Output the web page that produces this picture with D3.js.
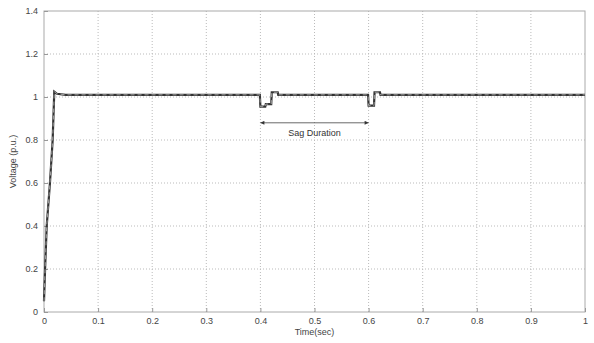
<!DOCTYPE html>
<html lang="en">
<head>
    <meta charset="UTF-8">
    <title>Voltage vs Time</title>
    <script src="https://d3js.org/d3.v7.min.js"></script>
    <style>
        body { margin: 0; background: #fff; }
        text { font-family: "Liberation Sans", Arial, sans-serif; }
    </style>
</head>
<body>
    <script>
        // time (sec) and voltage (p.u.)
        var time    = [0, 0.002, 0.005, 0.011, 0.016, 0.019, 0.024, 0.04, 0.1, 0.2, 0.3, 0.399,
                       0.4, 0.409, 0.41, 0.42, 0.421, 0.432, 0.433, 0.5, 0.599,
                       0.6, 0.61, 0.611, 0.621, 0.622, 0.7, 0.8, 0.9, 1.0];
        var voltage = [0.05, 0.2, 0.4, 0.6, 0.8, 1.025, 1.015, 1.01, 1.01, 1.01, 1.01, 1.01,
                       0.955, 0.955, 0.967, 0.967, 1.022, 1.022, 1.01, 1.01, 1.01,
                       0.96, 0.96, 1.022, 1.022, 1.01, 1.01, 1.01, 1.01, 1.01];
        var xTicks = [0, 0.1, 0.2, 0.3, 0.4, 0.5, 0.6, 0.7, 0.8, 0.9, 1];
        var yTicks = [0, 0.2, 0.4, 0.6, 0.8, 1, 1.2, 1.4];
        var sagStart = 0.4, sagEnd = 0.6, sagLevel = 0.88;

        var width = 594, height = 343;
        var m = { left: 44, right: 9, top: 11, bottom: 31 };

        var svg = d3.select("body").append("svg")
                    .attr("width", width)
                    .attr("height", height);

        var x = d3.scaleLinear().domain([0, 1]).range([m.left, width - m.right]);
        var y = d3.scaleLinear().domain([0, 1.4]).range([height - m.bottom, m.top]);

        // dotted grid
        svg.append("g").selectAll("line").data(xTicks.slice(1, -1)).enter().append("line")
            .attr("x1", function(d){ return x(d); }).attr("x2", function(d){ return x(d); })
            .attr("y1", y(0)).attr("y2", y(1.4))
            .attr("stroke", "#bbb").attr("stroke-dasharray", "1,2");
        svg.append("g").selectAll("line").data(yTicks.slice(1, -1)).enter().append("line")
            .attr("y1", function(d){ return y(d); }).attr("y2", function(d){ return y(d); })
            .attr("x1", x(0)).attr("x2", x(1))
            .attr("stroke", "#bbb").attr("stroke-dasharray", "1,2");

        // frame
        svg.append("rect")
            .attr("x", x(0)).attr("y", y(1.4))
            .attr("width", x(1) - x(0)).attr("height", y(0) - y(1.4))
            .attr("fill", "none").attr("stroke", "#aaa");

        // axes with inward ticks
        var xAxis = svg.append("g").attr("transform", "translate(0," + y(0) + ")")
            .call(d3.axisBottom(x).tickValues(xTicks).tickSize(-4).tickPadding(6)
                  .tickFormat(function(d){ return d === 0 || d === 1 ? d : d3.format(".1f")(d); }));
        var yAxis = svg.append("g").attr("transform", "translate(" + x(0) + ",0)")
            .call(d3.axisLeft(y).tickValues(yTicks).tickSize(-4).tickPadding(6)
                  .tickFormat(function(d){ return d === 0 || d === 1 ? d : d3.format(".1f")(d); }));
        [xAxis, yAxis].forEach(function(a){
            a.select(".domain").remove();
            a.selectAll(".tick line").attr("stroke", "#999");
            a.selectAll("text").attr("fill", "#444").style("font-size", "9px");
        });

        // axis titles
        svg.append("text").attr("x", x(0.5)).attr("y", height - 8)
            .attr("text-anchor", "middle").attr("fill", "#444").style("font-size", "9px")
            .text("Time(sec)");
        svg.append("text")
            .attr("transform", "translate(16," + y(0.7) + ") rotate(-90)")
            .attr("text-anchor", "middle").attr("fill", "#444").style("font-size", "9px")
            .text("Voltage (p.u.)");

        // voltage trace
        var line = d3.line().x(function(d, i){ return x(time[i]); }).y(function(d){ return y(d); });
        svg.append("path").datum(voltage)
            .attr("d", line).attr("fill", "none")
            .attr("stroke", "#333").attr("stroke-width", 2.2);
        svg.append("path").datum(voltage)
            .attr("d", line).attr("fill", "none")
            .attr("stroke", "#bbb").attr("stroke-width", 0.8)
            .attr("stroke-dasharray", "4,3");

        // sag duration arrow
        svg.append("defs").selectAll("marker").data(["s", "e"]).enter().append("marker")
            .attr("id", function(d){ return "arr" + d; })
            .attr("viewBox", "0 0 10 10").attr("refX", function(d){ return d === "e" ? 10 : 0; })
            .attr("refY", 5).attr("markerWidth", 7).attr("markerHeight", 5)
            .attr("orient", "auto")
            .append("path")
            .attr("d", function(d){ return d === "e" ? "M0,0L10,5L0,10Z" : "M10,0L0,5L10,10Z"; })
            .attr("fill", "#333");
        svg.append("line")
            .attr("x1", x(sagStart)).attr("x2", x(sagEnd))
            .attr("y1", y(sagLevel)).attr("y2", y(sagLevel))
            .attr("stroke", "#444").attr("stroke-width", 0.8)
            .attr("marker-start", "url(#arrs)").attr("marker-end", "url(#arre)");
        svg.append("text").attr("x", x((sagStart + sagEnd) / 2)).attr("y", y(sagLevel) + 13)
            .attr("text-anchor", "middle").attr("fill", "#333").style("font-size", "9px")
            .text("Sag Duration");
    </script>
</body>
</html>
